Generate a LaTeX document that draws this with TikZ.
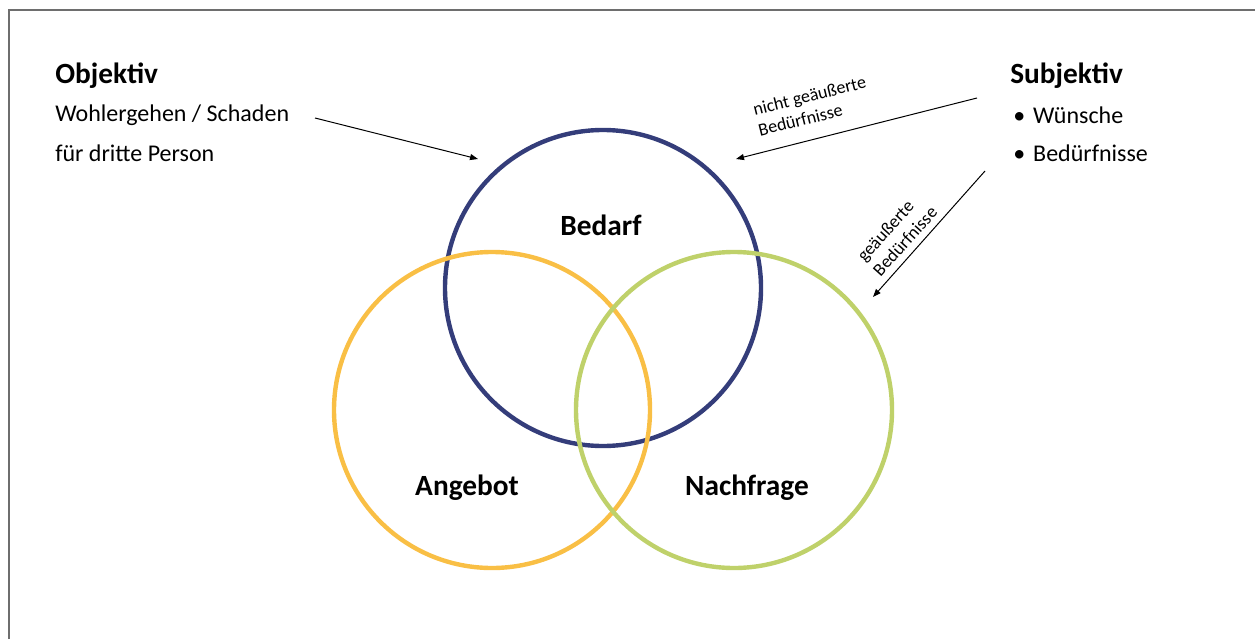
\documentclass[tikz,border=0pt]{standalone}
\usepackage{fontspec}
\setmainfont{Carlito}
\usetikzlibrary{arrows.meta}
\definecolor{bedarfblue}{RGB}{52,61,122}
\definecolor{angebotorange}{RGB}{249,191,69}
\definecolor{nachfragegreen}{RGB}{191,209,106}
\definecolor{framegray}{RGB}{110,110,110}
\tikzset{
  ring/.style={line width=3.3pt},
  headtxt/.style={font=\fontsize{22}{26}\selectfont\bfseries, anchor=west, inner sep=0pt},
  bodytxt/.style={font=\fontsize{18}{22}\selectfont, anchor=west, inner sep=0pt},
  settxt/.style={font=\fontsize{22}{26}\selectfont\bfseries, inner sep=0pt},
  smalltxt/.style={font=\fontsize{13.5}{16}\selectfont, align=left, inner sep=0pt},
  pointer/.style={-{Triangle[length=6pt,width=4.5pt]}, line width=0.75pt}
}
\begin{document}
\begin{tikzpicture}[x=0.75pt,y=0.75pt,yscale=-1,xscale=1]
        \useasboundingbox (0,0) rectangle (1255,639);
        % frame
        \draw [framegray, line width=1.5pt] (9,639) -- (9,10) -- (1255,10);
        % circles
        \draw [ring, bedarfblue] (603,288) circle [radius=158];
        \draw [ring, angebotorange] (492,410) circle [radius=158];
        \draw [ring, nachfragegreen] (734,410) circle [radius=158];
        \node (bedarf) [settxt] at (601,225) {Bedarf};
        \node (angebot) [settxt] at (467,488) {Angebot};
        \node (nachfrage) [settxt] at (747,488) {Nachfrage};
        % objektiv
        \node (objektiv) [headtxt] at (55,76) {Objektiv};
        \node (wohl) [bodytxt] at (55,115) {Wohlergehen / Schaden};
        \node (dritte) [bodytxt] at (55,153) {für dritte Person};
        % subjektiv
        \node (subjektiv) [headtxt] at (1010,76) {Subjektiv};
        \node (wuensche) [bodytxt] at (1013,115) {\textbullet\hspace{6pt}Wünsche};
        \node (beduerf) [bodytxt] at (1013,153) {\textbullet\hspace{6pt}Bedürfnisse};
        % arrows
        \coordinate (objstart) at (315,118);
        \coordinate (objend) at (478,159);
        \coordinate (nichtstart) at (977,98);
        \coordinate (nichtend) at (736,159);
        \coordinate (geaustart) at (985,171);
        \coordinate (geauend) at (873,297);
        \draw [pointer] (objstart) -- (objend);
        \draw [pointer] (nichtstart) -- (nichtend);
        \draw [pointer] (geaustart) -- (geauend);
        \node (nichtlbl) [smalltxt, rotate=14] at (812,106) {nicht geäußerte\\Bedürfnisse};
        \node (geaulbl) [smalltxt, rotate=48] at (897,234) {geäußerte\\Bedürfnisse};
\end{tikzpicture}
\end{document}
